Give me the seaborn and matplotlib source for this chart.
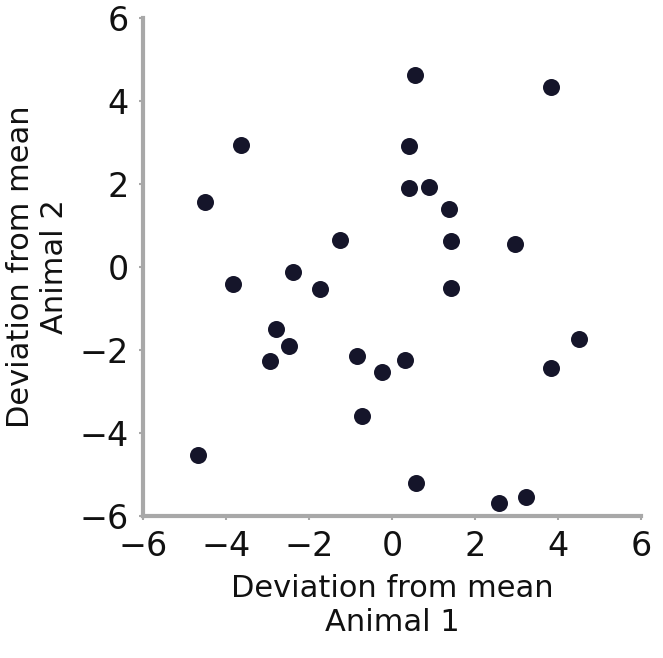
import matplotlib
matplotlib.use("Agg")
import matplotlib.pyplot as plt
import seaborn as sns
import pandas as pd

# Deviation from mean for the two animals
animal_1 = [0.55, 3.84, -3.65, 0.40, -4.51, 0.42, 0.90, 1.37, -1.25, 1.42,
            2.97, -2.39, -3.82, -1.74, 1.41, -2.80, 4.51, -2.49, -0.84, -2.95,
            0.32, -0.23, 3.83, -0.72, -4.67, 0.59, 2.57, 3.23]
animal_2 = [4.63, 4.34, 2.95, 2.92, 1.57, 1.90, 1.92, 1.40, 0.65, 0.63,
            0.55, -0.12, -0.40, -0.52, -0.50, -1.49, -1.73, -1.90, -2.15, -2.27,
            -2.23, -2.52, -2.43, -3.59, -4.52, -5.20, -5.69, -5.54]
ticks = [-6, -4, -2, 0, 2, 4, 6]

df = pd.DataFrame({"animal_1": animal_1, "animal_2": animal_2})

sns.set_style("ticks")
plt.rcParams["font.family"] = ["DejaVu Sans"]

fig = plt.figure(figsize=(6.63, 6.58), dpi=100)
ax = fig.add_axes([0.2157, 0.2158, 0.7511, 0.7568])

sns.scatterplot(data=df, x="animal_1", y="animal_2", ax=ax,
                color="#15152a", s=150, linewidth=0, clip_on=False, zorder=3)

ax.set_xlim(-6, 6)
ax.set_ylim(-6, 6)
ax.set_xticks(ticks)
ax.set_yticks(ticks)
ax.tick_params(axis="both", direction="out", length=3, width=1.5,
               color="#a8a8a8", labelsize=24, pad=7, labelcolor="#111111")

for side in ["top", "right"]:
    ax.spines[side].set_visible(False)
for side in ["left", "bottom"]:
    ax.spines[side].set_color("#a8a8a8")
    ax.spines[side].set_linewidth(3)

ax.set_xlabel("Deviation from mean\nAnimal 1", fontsize=22, color="#111111",
              labelpad=8, linespacing=1.2)
ax.set_ylabel("Deviation from mean\nAnimal 2", fontsize=22, color="#111111",
              labelpad=8, linespacing=1.2)

fig.savefig("out.png", dpi=100)
